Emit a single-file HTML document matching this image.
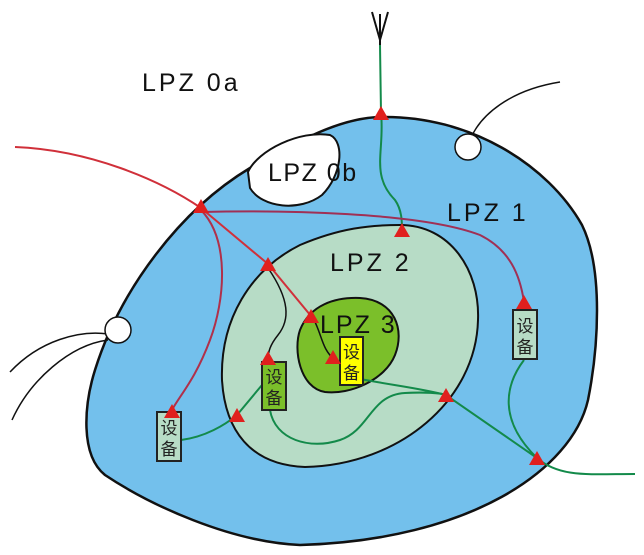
<!DOCTYPE html>
<html><head><meta charset="utf-8"><style>
html,body{margin:0;padding:0;background:#fff;}
svg{display:block;}
text{font-family:"Liberation Sans","Noto Sans CJK SC",sans-serif;}
</style></head><body>
<svg width="644" height="555" viewBox="0 0 644 555" xmlns="http://www.w3.org/2000/svg">
<path d="M380,117 C470,115 548,165 582,225 C604,270 598,350 588,400 C572,470 470,540 300,545 C230,542 150,505 105,475 C80,455 84,405 95,370 C120,290 180,210 250,168 C300,140 340,118 380,117 Z" fill="#73c0ec" stroke="#111" stroke-width="2.5"/>
<path d="M248,172 C258,150 300,130 330,135 C345,142 342,175 322,195 C300,212 262,208 250,188 Z" fill="#fff" stroke="#111" stroke-width="2"/>
<path d="M400,225 C450,225 480,270 478,320 C476,400 400,465 305,467 C250,465 225,430 222,380 C220,320 250,270 300,245 C340,228 370,225 400,225 Z" fill="#b7dcc6" stroke="#111" stroke-width="2"/>
<path d="M360,298 C395,300 405,330 395,355 C385,380 350,395 325,392 C300,388 293,350 300,330 C310,305 335,297 360,298 Z" fill="#7bbf2a" stroke="#111" stroke-width="2"/>
<path d="M470,140 C480,115 510,90 560,82" fill="none" stroke="#111" stroke-width="1.5"/>
<circle cx="468" cy="147" r="13" fill="#fff" stroke="#111" stroke-width="1.5"/>
<path d="M108,334 C80,330 40,340 10,372 M108,340 C70,345 30,380 12,420" fill="none" stroke="#111" stroke-width="1.5"/>
<circle cx="118" cy="330" r="13" fill="#fff" stroke="#111" stroke-width="1.5"/>
<path d="M380,45 L380,14 M380,40 L372,12 M380,40 L388,12" fill="none" stroke="#111" stroke-width="2"/>
<path d="M268,268 C290,300 290,320 278,335 C270,345 268,352 268,360" fill="none" stroke="#111" stroke-width="1.5"/>
<path d="M314,320 C322,335 322,350 335,360" fill="none" stroke="#111" stroke-width="1.5"/>
<g fill="none" stroke="#138a4a" stroke-width="2">
<path d="M380,45 L381,113 C385,150 370,175 395,200 C402,210 402,222 402,230"/>
<path d="M355,378 C390,385 420,388 446,395 L537,458 C560,478 590,474 635,474"/>
<path d="M270,410 C275,440 310,450 340,440 C370,430 370,395 405,393 C425,392 440,393 446,395"/>
<path d="M181,440 C205,437 225,425 237,415 L262,385"/>
<path d="M524,360 C505,385 498,420 537,458"/>
</g>
<g fill="none" stroke-width="2">
<path d="M15,147 C90,150 160,180 201,208" stroke="#d0303a"/>
<path d="M201,208 L268,264 L311,316" stroke="#d0303a"/>
<path d="M201,210 C230,240 225,300 210,340 C195,380 180,395 172,410" stroke="#b0304a"/>
<path d="M201,212 C280,210 420,212 480,235 C510,250 520,275 524,302" stroke="#a03055"/>
</g>
<g stroke="#222" stroke-width="2">
<rect x="340" y="337" width="23" height="48" fill="#ffff00"/>
<rect x="262" y="362" width="24" height="48" fill="#7bbf2a"/>
<rect x="157" y="412" width="24" height="49" fill="#b7dcc6"/>
<rect x="513" y="310" width="24" height="49" fill="#b7dcc6"/>
</g>
<g font-size="17" fill="#222" text-anchor="middle">
<text x="351.5" y="358">设</text><text x="351.5" y="379">备</text>
<text x="274" y="383">设</text><text x="274" y="404">备</text>
<text x="169" y="434">设</text><text x="169" y="455">备</text>
<text x="525" y="332">设</text><text x="525" y="353">备</text>
</g>
<g fill="#e0201e">
<path d="M381,106 l-8,14 h16 z"/>
<path d="M201,199 l-8,14 h16 z"/>
<path d="M268,257 l-8,14 h16 z"/>
<path d="M402,223 l-8,14 h16 z"/>
<path d="M311,309 l-8,14 h16 z"/>
<path d="M333,350 l-8,14 h16 z"/>
<path d="M268,351 l-8,14 h16 z"/>
<path d="M172,404 l-8,14 h16 z"/>
<path d="M237,408 l-8,14 h16 z"/>
<path d="M524,295 l-8,14 h16 z"/>
<path d="M446,388 l-8,14 h16 z"/>
<path d="M537,451 l-8,14 h16 z"/>
</g>
<g font-size="25" fill="#111">
<text x="142" y="91" letter-spacing="3">LPZ 0a</text>
<text x="268" y="181" letter-spacing="1.5">LPZ 0b</text>
<text x="447" y="221" letter-spacing="3">LPZ 1</text>
<text x="330" y="271" letter-spacing="3">LPZ 2</text>
<text x="320" y="333" letter-spacing="2">LPZ 3</text>
</g>
</svg>
</body></html>
